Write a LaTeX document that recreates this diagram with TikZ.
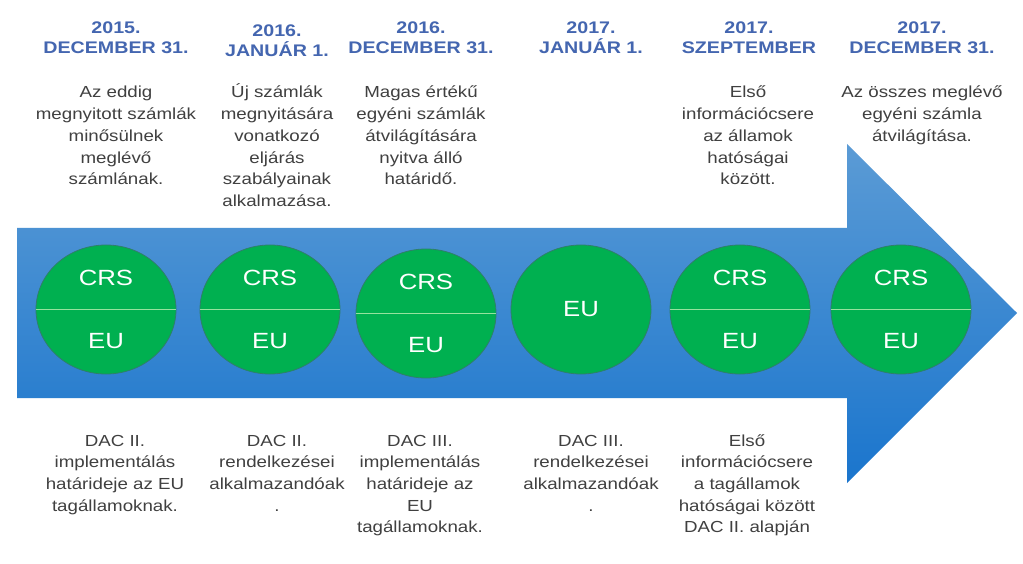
\documentclass[tikz,border=0pt]{standalone}
\usepackage{fontspec}
\setmainfont{Liberation Sans}[FakeStretch=1.17]
\usetikzlibrary{shapes.geometric}
\definecolor{hdrblue}{HTML}{4466B0}
\definecolor{txtgray}{HTML}{404040}
\definecolor{arrtop}{HTML}{5B9BD5}
\definecolor{arrbot}{HTML}{1A75CD}
\definecolor{discgreen}{HTML}{00B050}
\definecolor{discedge}{HTML}{2F7F6A}
\definecolor{divline}{HTML}{96E29E}
\begin{document}
\begin{tikzpicture}[x=1pt,y=-1pt,
  hdr/.style={anchor=base,align=center,inner sep=0pt,text=hdrblue,font=\fontsize{16.8}{20.5}\selectfont\bfseries},
  body/.style={anchor=base,align=center,inner sep=0pt,text=txtgray,font=\fontsize{16}{21.7}\selectfont},
  disc/.style={ellipse,fill=discgreen,draw=discedge,line width=0.8pt,minimum width=140pt,minimum height=129pt,inner sep=0pt},
  disclbl/.style={text=white,inner sep=0pt,font=\fontsize{22}{24}\selectfont},
  divider/.style={draw=divline,line width=1.4pt}]
\useasboundingbox (0,0) rectangle (1023,564);
\fill[white] (0,0) rectangle (1023,564);
% arrow
\shade[top color=arrtop,bottom color=arrbot]
  (17,228) -- (847,228) -- (847,144) -- (1017,313) -- (847,483) -- (847,398) -- (17,398) -- cycle;
% headers (anchored at the baseline of the last line)
\node[hdr] (h1) at (116,54) {2015.\\DECEMBER 31.};
\node[hdr] (h2) at (277,57) {2016.\\JANUÁR 1.};
\node[hdr] (h3) at (421,54) {2016.\\DECEMBER 31.};
\node[hdr] (h4) at (591,54) {2017.\\JANUÁR 1.};
\node[hdr] (h5) at (749,54) {2017.\\SZEPTEMBER};
\node[hdr] (h6) at (922,54) {2017.\\DECEMBER 31.};
% top texts
\node[body] (t1) at (116,184.8) {Az eddig\\megnyitott számlák\\minősülnek\\meglévő\\számlának.};
\node[body] (t2) at (277,206.5) {Új számlák\\megnyitására\\vonatkozó\\eljárás\\szabályainak\\alkalmazása.};
\node[body] (t3) at (421,184.8) {Magas értékű\\egyéni számlák\\átvilágítására\\nyitva álló\\határidő.};
\node[body] (t5) at (748,184.8) {Első\\információcsere\\az államok\\hatóságai\\között.};
\node[body] (t6) at (922,141.4) {Az összes meglévő\\egyéni számla\\átvilágítása.};
% discs
\node[disc] (c1) at (106,309.5) {};
\node[disc] (c2) at (270,309.5) {};
\node[disc] (c3) at (426,313.5) {};
\node[disc] (c4) at (581,309.5) {};
\node[disc] (c5) at (740,309.5) {};
\node[disc] (c6) at (901,309.5) {};
\foreach \c in {c1,c2,c3,c5,c6}{
  \draw[divider] (\c.west) -- (\c.east);
  \node[disclbl] at ([yshift=31.5pt]\c.center) {CRS};
  \node[disclbl] at ([yshift=-31.5pt]\c.center) {EU};
}
\node[disclbl] at (c4.center) {EU};
% bottom texts
\node[body] (b1) at (115,511.1) {DAC II.\\implementálás\\határideje az EU\\tagállamoknak.};
\node[body] (b2) at (277,511.1) {DAC II.\\rendelkezései\\alkalmazandóak\\.};
\node[body] (b3) at (420,532.8) {DAC III.\\implementálás\\határideje az\\EU\\tagállamoknak.};
\node[body] (b4) at (591,511.1) {DAC III.\\rendelkezései\\alkalmazandóak\\.};
\node[body] (b5) at (747,532.8) {Első\\információcsere\\a tagállamok\\hatóságai között\\DAC II. alapján};
\end{tikzpicture}
\end{document}
